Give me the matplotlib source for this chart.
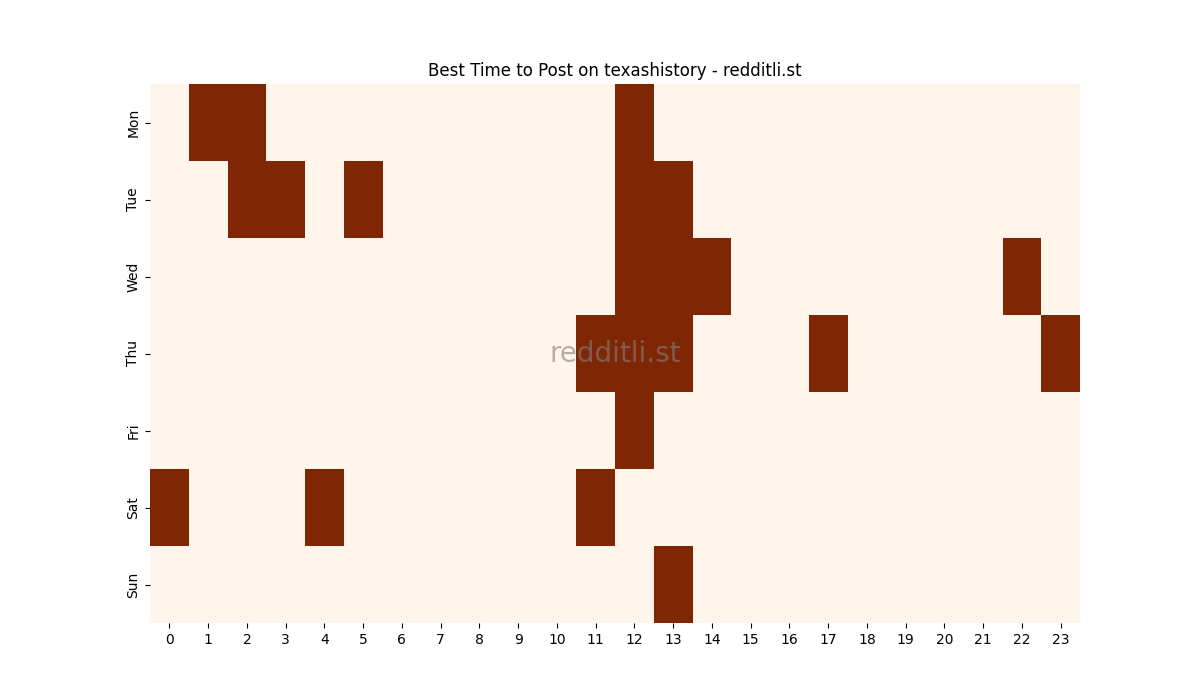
import matplotlib
matplotlib.use("Agg")
import matplotlib.pyplot as plt
import seaborn as sns
import numpy as np

days = ["Mon", "Tue", "Wed", "Thu", "Fri", "Sat", "Sun"]
hours = [str(h) for h in range(24)]
best_hours = {
    "Mon": [1, 2, 12],
    "Tue": [2, 3, 5, 12, 13],
    "Wed": [12, 13, 14, 22],
    "Thu": [11, 12, 13, 17, 23],
    "Fri": [12],
    "Sat": [0, 4, 11],
    "Sun": [13],
}

grid = np.zeros((len(days), len(hours)))
for i, d in enumerate(days):
    for h in best_hours[d]:
        grid[i, h] = 1

fig = plt.figure(figsize=(12, 7), dpi=100)
ax = fig.add_subplot(111)
sns.heatmap(grid, cmap="Oranges", cbar=False, ax=ax,
            xticklabels=hours, yticklabels=days)
ax.set_yticklabels(days, rotation=90, va="center")
ax.set_xticklabels(hours, rotation=0)
ax.set_title("Best Time to Post on texashistory - redditli.st")
ax.text(0.5, 0.5, "redditli.st", transform=ax.transAxes, fontsize=20,
        color="gray", alpha=0.6, ha="center", va="center")
fig.savefig("out.png", dpi=100)
